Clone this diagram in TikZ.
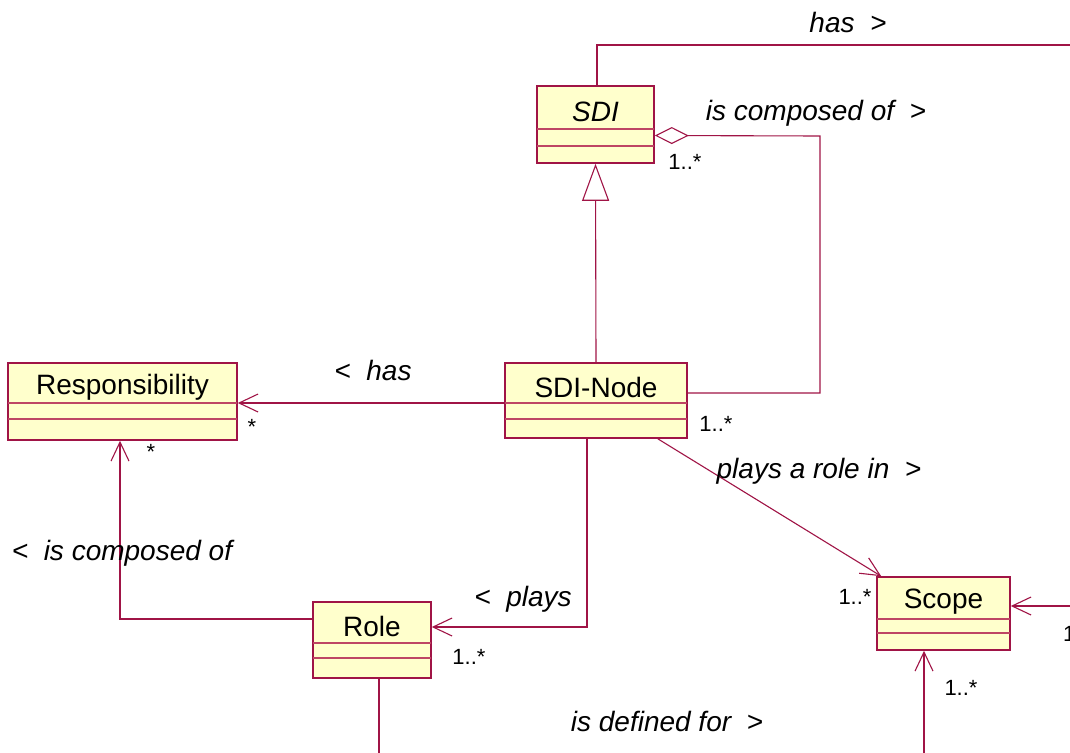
\documentclass[tikz,border=0pt]{standalone}
\usepackage{fontspec}
\setmainfont{Liberation Sans}
\usetikzlibrary{arrows.meta,calc}
\definecolor{umlline}{RGB}{160,20,70}
\definecolor{umlfill}{RGB}{255,255,204}
\definecolor{umlsep}{RGB}{190,70,100}
\tikzset{
  cls/.style={draw=umlline, fill=umlfill, line width=1.6pt, inner sep=0pt},
  sepline/.style={draw=umlsep, line width=1.3pt},
  clstext/.style={font=\fontsize{28}{32}\selectfont, inner sep=0pt, anchor=center},
  assoc/.style={draw=umlline, line width=1.1pt},
  lbl/.style={font=\fontsize{28}{32}\selectfont\itshape, inner sep=0pt},
  mult/.style={font=\fontsize{22}{26}\selectfont, inner sep=0pt},
  openarrow/.style={-{Straight Barb[length=19pt,width=18pt,line width=1.1pt]}},
}
\newcommand{\umlclassbox}[8]{%
  % #1 name, #2 x1, #3 y1, #4 x2, #5 y2, #6 sep1, #7 sep2, #8 text
  \node[cls, minimum width={(#4-#2)*1pt}, minimum height={(#5-#3)*1pt}] (#1) at ({(#2+#4)/2},{(#3+#5)/2}) {};
  \draw[sepline] (#2,#6) -- (#4,#6);
  \draw[sepline] (#2,#7) -- (#4,#7);
  \node[clstext] (#1-name) at ({(#2+#4)/2},{(#3+#6)/2+4}) {#8};
}
\begin{document}
\begin{tikzpicture}[x=1pt,y=-1pt]
\useasboundingbox (0,0) rectangle (1070,752);
\clip (0,0) rectangle (1070,752);
\fill[white] (0,0) rectangle (1070,752);

% classes
\umlclassbox{sdi}{537}{86}{654}{163}{129}{146}{\itshape SDI}
\umlclassbox{resp}{8}{363}{237}{440}{403}{419}{Responsibility}
\umlclassbox{sdinode}{505}{363}{687}{438}{403}{419}{SDI-Node}
\umlclassbox{role}{313}{602}{431}{678}{643}{658}{Role}
\umlclassbox{scope}{877}{577}{1010}{650}{619}{633}{Scope}

% coordinates for bends and free ends
\coordinate (h1) at (597,45);
\coordinate (h2) at (1080,45);
\coordinate (ag1) at (820,136);
\coordinate (ag2) at (820,393);
\coordinate (rc) at (120,619);
\coordinate (pc) at (587,627);
\coordinate (sr) at (1080,606);
\coordinate (b1) at (379,760);
\coordinate (b2) at (924,760);

% SDI has > (off to the right)
\draw[assoc] (sdi.north -| h1) -- (h1) -- (h2);

% aggregation SDI <>-- SDI-Node
\draw[assoc, {Diamond[open,fill=white,length=34pt,width=17pt,line width=1.1pt]}-]
  ($(sdi.east)+(0,11)$) -- (ag1) -- (ag2) -- (ag2 -| sdinode.east);

% generalization SDI-Node --|> SDI
\draw[assoc, -{Triangle[open,fill=white,length=37pt,width=27pt,line width=1.1pt]}]
  (sdinode.north) -- (sdi.south);

% SDI-Node -> Responsibility
\draw[assoc, openarrow] ($(sdinode.west)+(0,2.5)$) -- ($(resp.east)+(0,1.5)$);

% Role -> Responsibility
\draw[assoc, openarrow] (role.west |- rc) -- (rc) -- (rc |- resp.south);

% SDI-Node -> Role
\draw[assoc, openarrow] (sdinode.south -| pc) -- (pc) -- (pc -| role.east);

% SDI-Node -> Scope
\draw[assoc, openarrow] ($(sdinode.south east)+(-30,0)$) -- ($(scope.north west)+(5,0)$);

% right edge -> Scope
\draw[assoc, openarrow] (sr) -- (sr -| scope.east);

% bottom edges
\draw[assoc] (role.south -| b1) -- (b1);
\draw[assoc, openarrow] (b2) -- (b2 |- scope.south);

% labels
\node[lbl] (l1) at (848,22) {has \ >};
\node[lbl] (l2) at (816,113) {is composed of \ >};
\node[lbl] (l3) at (373,370) {< \ has};
\node[lbl] (l4) at (122,553) {< \ is composed of};
\node[lbl] (l5) at (523,599) {< \ plays};
\node[lbl] (l6) at (819,471) {plays a role in \ >};
\node[lbl] (l7) at (667,721) {is defined for \ >};

% multiplicities
\node[mult] (m1) at (685,162) {1..*};
\node[mult] (m2) at (252,427) {*};
\node[mult] (m3) at (151,452) {*};
\node[mult] (m4) at (716,424) {1..*};
\node[mult] (m5) at (469,657) {1..*};
\node[mult] (m6) at (855,597) {1..*};
\node[mult] (m7) at (961,688) {1..*};
\node[mult, anchor=west] (m8) at (1063,634) {1..*};
\end{tikzpicture}
\end{document}
